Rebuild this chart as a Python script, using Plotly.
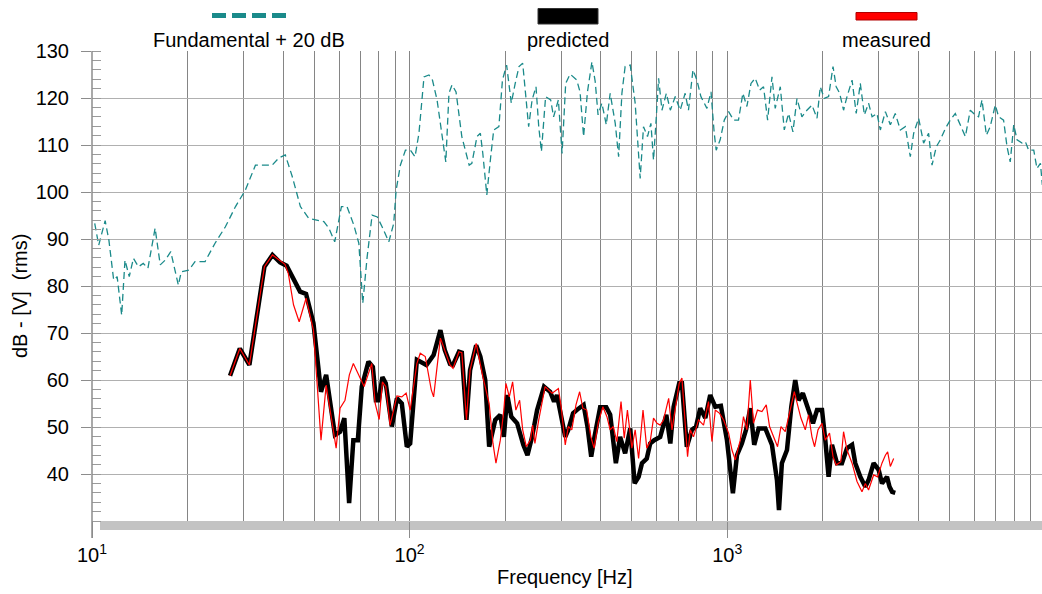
import plotly.graph_objects as go

# ---------------- data ----------------
fund_f = [10.2, 10.5, 11.0, 11.3, 11.7, 12.0, 12.4, 12.7, 13.1, 13.5,
          14.0, 14.5, 15.0, 15.8, 16.4, 17.0, 17.7, 18.7, 19.1, 20.2,
          21.1, 22.7, 24.4, 26.3, 28.3, 30.4, 32.7, 34.3, 36.9, 38.7,
          40.6, 42.7, 45.3, 48.1, 51.2, 53.7, 55.7, 58.1, 61.0, 63.5,
          66.7, 69.2, 71.2, 73.5, 76.2, 79.1, 81.9, 86.0, 89.1, 90.7,
          93.5, 97.0, 100.6, 104, 107, 111, 115, 118, 122, 127,
          130, 133, 136, 140, 146, 154, 157, 163, 167, 170,
          175, 180, 184, 191, 196, 202, 209, 215, 221, 227,
          232, 237, 243, 250, 255, 260, 268, 278, 284, 294,
          302, 310, 320, 336, 344, 353, 363, 375, 384, 392,
          403, 416, 428, 444, 455, 466, 477, 495, 513, 532,
          545, 561, 575, 586, 598, 608, 623, 643, 662, 686,
          711, 737, 755, 780, 803, 826, 863, 889, 910, 923,
          950, 979, 1010, 1047, 1085, 1120, 1153, 1188, 1225, 1265,
          1301, 1340, 1383, 1416, 1469, 1512, 1560, 1610, 1658, 1718,
          1782, 1848, 1917, 1963, 2021, 2085, 2153, 2203, 2259, 2324,
          2383, 2472, 2547, 2624, 2702, 2786, 2858, 2961, 3034, 3147,
          3262, 3381, 3508, 3636, 3770, 3864, 4005, 4152, 4305, 4413,
          4550, 4688, 4861, 5036, 5224, 5415, 5620, 5823, 6037, 6183,
          6339, 6545, 6730, 6982, 7152, 7413, 7603, 7780, 7980, 8175,
          8472, 8683, 8892, 9226, 9443, 9683, 9820]
fund_db = [93.3, 88.7, 93.9, 89.8, 81.3, 82.0, 73.8, 85.5, 82.0, 85.9,
           84.1, 84.8, 83.8, 92.3, 84.5, 85.5, 87.3, 80.2, 83.0, 83.4,
           85.2, 85.2, 89.1, 92.6, 96.9, 100.4, 105.7, 105.7, 105.7, 107.2,
           107.9, 103.3, 96.9, 94.4, 94.0, 93.7, 92.3, 89.4, 96.9, 96.9,
           93.0, 89.1, 76.3, 86.2, 95.1, 94.7, 92.6, 89.4, 93.3, 100.4,
           105.7, 108.9, 108.9, 107.5, 112.5, 124.5, 124.9, 123.8, 119.6, 111.1,
           106.4, 121.0, 122.8, 121.3, 111.8, 105.7, 106.1, 111.8, 112.5, 108.2,
           99.4, 107.5, 113.2, 113.9, 123.8, 127.0, 118.9, 123.1, 126.7, 127.4,
           120.3, 113.9, 119.6, 122.4, 113.9, 108.6, 120.3, 119.6, 116.0, 119.6,
           108.2, 123.1, 125.1, 123.8, 121.3, 111.8, 121.3, 127.7, 123.5, 116.4,
           118.9, 114.3, 121.0, 114.6, 107.5, 121.0, 126.7, 127.0, 118.9, 102.9,
           113.9, 111.8, 114.6, 106.8, 116.0, 124.2, 117.4, 121.0, 117.4, 120.3,
           117.4, 121.0, 117.4, 126.0, 123.8, 120.3, 117.8, 121.3, 112.5, 108.9,
           111.1, 115.3, 117.1, 115.3, 115.3, 121.0, 118.2, 123.1, 124.2, 121.7,
           122.4, 115.3, 124.5, 117.8, 122.4, 113.2, 116.7, 112.8, 119.9, 116.0,
           117.4, 118.5, 115.7, 122.4, 119.9, 120.3, 126.7, 122.4, 121.0, 117.4,
           120.3, 123.8, 116.7, 123.1, 116.4, 118.9, 116.0, 116.7, 113.2, 117.1,
           114.3, 116.7, 113.2, 113.9, 107.5, 112.5, 115.7, 110.4, 112.5, 105.7,
           109.6, 111.1, 113.5, 115.3, 116.7, 114.3, 111.8, 117.4, 116.4, 116.0,
           119.6, 112.1, 113.9, 118.5, 116.0, 115.3, 109.6, 106.4, 114.3, 111.1,
           110.4, 110.7, 108.9, 108.9, 105.0, 106.1, 101.5]

pred_f = [27.2, 29.2, 31.3, 34.9, 37.0, 39.1, 41.0, 43.6, 45.2, 47.2,
          49.8, 52.6, 54.6, 58.2, 60.4, 62.3, 64.5, 66.5, 68.7, 70.7,
          74.2, 76.6, 78.3, 80.0, 82.1, 84.1, 87.9, 91.2, 94.5, 98.0,
          100.4, 105.4, 113, 119, 125, 129, 134, 137, 143, 146,
          151, 155, 162, 167, 173, 178, 186, 193, 198, 203,
          209, 218, 228, 235, 243, 252, 265, 277, 285, 291,
          300, 309, 316, 327, 340, 353, 363, 373, 382, 398,
          416, 428, 446, 460, 477, 495, 511, 526, 539, 558,
          572, 589, 615, 643, 662, 678, 706, 720, 746, 774,
          798, 822, 853, 884, 917, 955, 998, 1042, 1073, 1112,
          1146, 1182, 1216, 1255, 1318, 1383, 1434, 1455, 1486, 1542,
          1591, 1637, 1677, 1730, 1803, 1862, 1917, 1988, 2036, 2085,
          2137, 2215, 2297, 2383, 2472, 2530, 2624, 2721, 2786, 2890,
          2997, 3070, 3184, 3243, 3304, 3381]
pred_db = [60.9, 66.7, 63.2, 84.1, 86.6, 85.0, 84.3, 80.6, 78.8, 78.3,
           72.1, 57.5, 61.1, 48.3, 49.0, 51.9, 33.8, 47.2, 47.2, 58.6,
           63.9, 62.8, 55.7, 55.7, 60.6, 59.3, 50.1, 56.1, 55.0, 45.8,
           46.5, 64.3, 63.2, 65.3, 70.6, 66.4, 63.4, 63.2, 66.0, 65.8,
           51.5, 62.1, 67.4, 65.0, 60.0, 45.8, 51.5, 52.6, 47.9, 56.8,
           52.2, 50.8, 46.2, 44.0, 47.9, 53.6, 58.6, 57.5, 55.4, 56.8,
           52.2, 47.9, 49.4, 52.9, 53.9, 54.7, 50.1, 43.7, 47.9, 54.2,
           54.2, 52.6, 42.3, 47.9, 44.4, 49.7, 38.0, 39.4, 42.3, 43.3,
           46.5, 47.2, 47.9, 52.6, 46.5, 54.3, 59.3, 59.3, 45.8, 49.4,
           50.1, 54.0, 51.9, 56.8, 54.3, 54.5, 47.2, 35.9, 44.0, 46.5,
           49.4, 54.0, 46.2, 49.7, 49.7, 46.2, 38.7, 32.3, 42.3, 45.1,
           54.3, 60.0, 55.7, 57.2, 53.6, 50.8, 53.6, 53.6, 47.2, 39.4,
           46.2, 42.3, 42.3, 45.5, 46.2, 42.3, 39.4, 37.3, 38.7, 42.3,
           40.9, 38.0, 39.4, 37.3, 36.2, 36.0]

meas_f = [27.2, 29.2, 31.3, 34.9, 37.0, 40.5, 41.5, 43.1, 44.9, 47.2,
          49.8, 52.6, 54.6, 58.7, 60.4, 62.6, 64.6, 66.5, 71.9, 76.0,
          77.9, 80.2, 82.1, 84.1, 86.8, 91.2, 94.5, 97.5, 100.4, 105.4,
          108, 112, 117, 119, 125, 129, 134, 137, 143, 146,
          151, 155, 162, 170, 178, 183, 187, 193, 198, 201,
          206, 211, 216, 222, 227, 233, 240, 244, 248, 255,
          267, 281, 294, 300, 309, 316, 324, 334, 343, 351,
          361, 372, 381, 393, 406, 418, 428, 438, 449, 463,
          474, 485, 501, 513, 526, 543, 558, 572, 586, 601,
          615, 630, 654, 670, 695, 706, 720, 750, 765, 783,
          812, 842, 873, 895, 917, 946, 974, 1010, 1035, 1060,
          1099, 1125, 1153, 1182, 1210, 1245, 1286, 1327, 1359, 1399,
          1440, 1476, 1523, 1578, 1626, 1665, 1706, 1761, 1803, 1848,
          1884, 1931, 1988, 2036, 2099, 2153, 2203, 2278, 2324, 2383,
          2472, 2562, 2656, 2721, 2786, 2890, 2975, 3070, 3147, 3199,
          3262, 3342]
meas_db = [60.9, 66.7, 63.2, 84.1, 86.6, 84.6, 82.7, 76.0, 72.4, 77.4,
           70.6, 47.2, 58.9, 45.5, 54.0, 55.7, 61.1, 63.5, 58.6, 63.5,
           55.0, 51.6, 59.6, 58.6, 50.4, 56.6, 56.4, 57.2, 53.6, 63.5,
           65.7, 65.0, 57.9, 56.4, 68.9, 66.4, 63.2, 62.5, 66.0, 65.8,
           51.5, 62.1, 67.8, 60.7, 55.0, 46.5, 42.3, 47.2, 53.6, 59.3,
           56.4, 59.6, 53.6, 55.7, 49.4, 45.8, 47.2, 50.4, 46.5, 51.5,
           58.6, 57.2, 58.2, 54.3, 46.2, 50.1, 49.4, 54.7, 57.5, 54.0,
           53.6, 47.9, 45.5, 51.1, 54.3, 52.2, 49.4, 50.1, 46.9, 55.4,
           47.6, 53.6, 45.5, 49.4, 43.3, 53.6, 45.5, 46.9, 51.9, 50.8,
           50.4, 51.5, 56.1, 49.4, 56.4, 59.3, 60.4, 43.7, 49.4, 47.9,
           51.5, 50.4, 55.4, 46.9, 53.6, 52.9, 51.5, 48.7, 45.1, 43.0,
           47.2, 52.2, 49.4, 60.0, 50.8, 53.6, 53.3, 54.7, 50.1, 47.9,
           45.8, 50.1, 49.0, 53.6, 57.5, 54.7, 51.9, 49.4, 52.6, 47.9,
           45.8, 49.4, 50.8, 47.2, 48.7, 43.7, 41.9, 42.6, 49.0, 45.1,
           42.3, 38.4, 36.2, 38.0, 36.6, 39.8, 39.4, 42.3, 44.0, 44.7,
           41.6, 43.3]

series_names = ["Fundamental + 20 dB", "predicted", "measured"]
x_tick_vals = [10, 100, 1000]
x_tick_text = ["10<sup>1</sup>", "10<sup>2</sup>", "10<sup>3</sup>"]
x_minor_vals = [20, 30, 40, 50, 60, 70, 80, 90,
                200, 300, 400, 500, 600, 700, 800, 900,
                2000, 3000, 4000, 5000, 6000, 7000, 8000, 9000]
y_tick_vals = [40, 50, 60, 70, 80, 90, 100, 110, 120, 130]

# ---------------- layout helpers ----------------
W, H = 1042, 594
L, R, T, B = 92, 0, 51, 73
PW, PH = W - L - R, H - T - B


def px(x):
    return (x - L) / PW


def py(y):
    return (H - B - y) / PH


TEAL = "#1a8a8a"
FONT = "Liberation Sans, Arial, sans-serif"
FS = 20

fig = go.Figure()
fig.add_trace(go.Scatter(x=fund_f, y=fund_db, mode="lines", name=series_names[0],
                         line=dict(color=TEAL, width=1.3, dash="7px,4px")))
fig.add_trace(go.Scatter(x=pred_f, y=pred_db, mode="lines", name=series_names[1],
                         line=dict(color="black", width=4.5)))
fig.add_trace(go.Scatter(x=meas_f, y=meas_db, mode="lines", name=series_names[2],
                         line=dict(color="#ff0000", width=1.2)))

shapes = [
    # gray band under plot
    dict(type="rect", xref="paper", yref="paper", x0=px(100), x1=1.0,
         y0=py(530), y1=py(521), fillcolor="#c3c3c3", line=dict(width=0), layer="below"),
    # y axis line (extends below)
    dict(type="line", xref="paper", yref="paper", x0=0, x1=0, y0=py(538), y1=1,
         line=dict(color="#8c8c8c", width=1.5)),
    # legend symbols
    dict(type="line", xref="paper", yref="paper", x0=px(212), x1=px(291),
         y0=py(15.5), y1=py(15.5), line=dict(color=TEAL, width=5, dash="14px,6px")),
    dict(type="rect", xref="paper", yref="paper", x0=px(538), x1=px(598),
         y0=py(24), y1=py(8.5), fillcolor="black", line=dict(color="#333", width=1)),
    dict(type="rect", xref="paper", yref="paper", x0=px(856), x1=px(917),
         y0=py(20), y1=py(12.5), fillcolor="#ff0000", line=dict(color="#b00000", width=1)),
]

annotations = [
    dict(text=series_names[0], x=px(249), y=py(40)),
    dict(text=series_names[1], x=px(568), y=py(40)),
    dict(text=series_names[2], x=px(886), y=py(40)),
    dict(text="Frequency [Hz]", x=px(565), y=py(577)),
    dict(text="dB - [V]\u00a0 (rms)", x=px(20), y=py(296), textangle=-90),
]
for a in annotations:
    a.update(xref="paper", yref="paper", showarrow=False, xanchor="center",
             yanchor="middle", font=dict(family=FONT, size=FS, color="black"))

fig.update_layout(
    width=W, height=H,
    margin=dict(l=L, r=R, t=T, b=B, pad=0),
    paper_bgcolor="white", plot_bgcolor="white",
    showlegend=False,
    font=dict(family=FONT, size=FS, color="black"),
    shapes=shapes, annotations=annotations,
    xaxis=dict(type="log", range=[1, 3.991],
               tickmode="array", tickvals=x_tick_vals, ticktext=x_tick_text,
               ticks="outside", ticklen=16, tickwidth=1, tickcolor="#8c8c8c",
               showgrid=True, gridcolor="#858585", gridwidth=1.4,
               minor=dict(tickmode="array", tickvals=x_minor_vals, showgrid=True,
                          gridcolor="#858585", gridwidth=1.4, ticks=""),
               showline=False, zeroline=False,
               tickfont=dict(family=FONT, size=FS, color="black")),
    yaxis=dict(range=[30, 130], tickmode="array", tickvals=y_tick_vals,
               ticks="outside", ticklen=10, tickwidth=1, tickcolor="#8c8c8c",
               ticklabelstandoff=8,
               showgrid=True, gridcolor="#b0b0b0", gridwidth=1.4,
               minor=dict(dtick=2, tick0=0, ticks="inside", ticklen=9,
                          tickcolor="#9a9a9a", tickwidth=1, showgrid=False),
               showline=False, zeroline=False,
               tickfont=dict(family=FONT, size=FS, color="black")),
)

fig.write_html("out.html")
